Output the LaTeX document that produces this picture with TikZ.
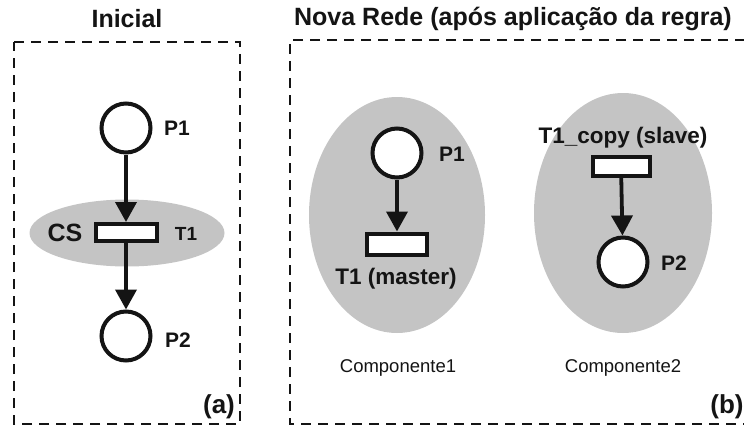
\documentclass[tikz,border=0pt]{standalone}
\usepackage{fontspec}
\setmainfont{Liberation Sans}
\usetikzlibrary{arrows.meta,shapes.geometric}
\definecolor{shade}{RGB}{196,196,196}
\definecolor{ink}{RGB}{20,20,20}
\tikzset{
  place/.style={circle,draw=ink,line width=4pt,fill=white,minimum size=49pt,inner sep=0pt},
  trans/.style={rectangle,draw=ink,line width=4pt,fill=white,minimum width=60pt,minimum height=18pt,inner sep=0pt},
  region/.style={ellipse,fill=shade,inner sep=0pt},
  arc/.style={draw=ink,line width=3.8pt,-{Triangle[length=20pt,width=21pt]}},
  frame/.style={draw=ink,line width=2.4pt,dash pattern=on 10pt off 7pt},
  lbl/.style={text=ink,font=\bfseries\fontsize{21}{23}\selectfont,inner sep=0pt},
  title/.style={text=ink,font=\bfseries\fontsize{25}{28}\selectfont,inner sep=0pt},
  comp/.style={text=ink,font=\fontsize{18.5}{20}\selectfont,inner sep=0pt},
  tag/.style={text=ink,font=\bfseries\fontsize{26}{28}\selectfont,inner sep=0pt}
}
\begin{document}
\begin{tikzpicture}[x=1pt,y=-1pt]
\useasboundingbox (0,0) rectangle (744,428);
% frames
\draw[frame] (14,42) -- (240,42) -- (240,424) -- (14,424) -- cycle;
\draw[frame] (745,40) -- (290,40) -- (290,424) -- (745,424);
% titles
\node[title] (tA) at (127,19) {Inicial};
\node[title] (tB) at (513,19) {Nova Rede (após aplicação da regra)};
% (a) initial net
\node[region,minimum width=195pt,minimum height=67pt] (csA) at (127,233) {};
\node[place] (p1a) at (126,128) {};
\node[trans,minimum width=61pt,minimum height=17pt] (t1a) at (126,232.5) {};
\node[place] (p2a) at (126,336) {};
\draw[arc] (p1a) -- (t1a);
\draw[arc] (t1a) -- (p2a);
\node[lbl] (lp1a) at (177,128) {P1};
\node[lbl,font=\bfseries\fontsize{19}{21}\selectfont] (lt1a) at (186,234) {T1};
\node[lbl,font=\bfseries\fontsize{25}{27}\selectfont] (lcs) at (65,233) {CS};
\node[lbl] (lp2a) at (178,340) {P2};
\node[tag] (ta) at (219,407) {(a)};
% (b) new net
\node[region,minimum width=176pt,minimum height=236pt] (c1) at (397,215) {};
\node[region,minimum width=178pt,minimum height=240pt] (c2) at (623,213) {};
\node[place] (p1b) at (397,153) {};
\node[trans,minimum width=60pt,minimum height=21pt] (t1b) at (397,244) {};
\draw[arc] (p1b) -- (t1b);
\node[lbl] (lp1b) at (452,154) {P1};
\node[lbl,font=\bfseries\fontsize{22.5}{24}\selectfont] (lt1b) at (396,279) {T1 (master)};
\node[trans,minimum width=57pt,minimum height=19pt] (t1c) at (621,166) {};
\node[place] (p2b) at (623,262) {};
\draw[arc] (t1c) -- (p2b);
\node[lbl,font=\bfseries\fontsize{22.5}{24}\selectfont] (lt1c) at (623,138) {T1\_copy (slave)};
\node[lbl] (lp2b) at (674,263) {P2};
\node[comp] (k1) at (398,368) {Componente1};
\node[comp] (k2) at (623,368) {Componente2};
\node[tag] (tb) at (727,407) {(b)};
\end{tikzpicture}
\end{document}
